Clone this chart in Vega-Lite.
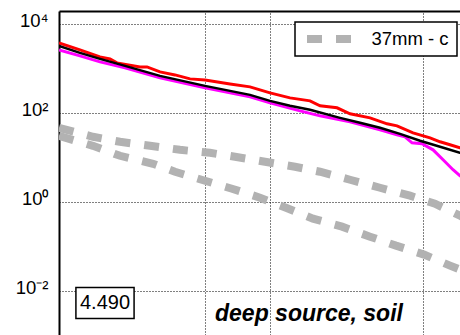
{
  "$schema": "https://vega.github.io/schema/vega-lite/v6.json",
  "width": 401,
  "height": 324,
  "autosize": {"type": "none"},
  "padding": {"left": 59, "top": 11, "right": 0, "bottom": 0},
  "background": "white",
  "config": {
    "view": {"stroke": null},
    "font": "Liberation Sans",
    "legend": {"strokeWidth": 1.5},
    "axis": {
      "grid": true, "gridColor": "black", "gridDash": [1, 2], "gridWidth": 1, "gridOpacity": 1,
      "domain": true, "domainColor": "black", "domainWidth": 2, "ticks": false,
      "labelColor": "black", "labelFont": "Liberation Sans", "labelFontSize": 18.5
    },
    "axisTop": {"labels": false},
    "axisLeft": {"labelPadding": 11, "labelBaseline": "alphabetic", "labelOffset": 3, "labelOverlap": false, "labelFlush": false}
  },
  "datasets": {
    "red": [
      {"x": 0.2132, "y": 3741}, {"x": 0.2662, "y": 2604}, {"x": 0.3290, "y": 1813},
      {"x": 0.3658, "y": 1635}, {"x": 0.3938, "y": 1329}, {"x": 0.5025, "y": 1081},
      {"x": 0.5412, "y": 1081}, {"x": 0.6211, "y": 834}, {"x": 0.7280, "y": 714},
      {"x": 0.8532, "y": 581}, {"x": 1, "y": 551}, {"x": 1.303, "y": 448},
      {"x": 1.610, "y": 384}, {"x": 1.990, "y": 281}, {"x": 2.459, "y": 217},
      {"x": 3.040, "y": 186}, {"x": 3.379, "y": 144}, {"x": 4.045, "y": 130},
      {"x": 4.642, "y": 95.0}, {"x": 5.738, "y": 77.2}, {"x": 6.868, "y": 56.6},
      {"x": 7.634, "y": 51.0}, {"x": 9.045, "y": 35.5}, {"x": 10.83, "y": 27.4},
      {"x": 12.04, "y": 22.3}, {"x": 13.38, "y": 19.1}, {"x": 14.87, "y": 16.4},
      {"x": 16.53, "y": 14.0}
    ],
    "black": [
      {"x": 0.2132, "y": 3203}, {"x": 0.2662, "y": 2230}, {"x": 0.3290, "y": 1635},
      {"x": 0.4287, "y": 1138}, {"x": 0.6211, "y": 678}, {"x": 1, "y": 404},
      {"x": 1.610, "y": 254}, {"x": 1.990, "y": 186}, {"x": 2.459, "y": 144},
      {"x": 3.040, "y": 117}, {"x": 4.175, "y": 77.2}, {"x": 5.160, "y": 59.6},
      {"x": 6.376, "y": 46.0}, {"x": 7.880, "y": 33.7}, {"x": 9.739, "y": 23.5},
      {"x": 12.04, "y": 17.2}, {"x": 14.87, "y": 12.6}, {"x": 16.53, "y": 10.8}
    ],
    "magenta": [
      {"x": 0.2132, "y": 2604}, {"x": 0.2662, "y": 1909}, {"x": 0.3290, "y": 1400},
      {"x": 0.4287, "y": 1026}, {"x": 0.6211, "y": 612}, {"x": 1, "y": 365},
      {"x": 1.610, "y": 229}, {"x": 1.990, "y": 168}, {"x": 2.734, "y": 111},
      {"x": 3.379, "y": 85.6}, {"x": 4.642, "y": 62.8}, {"x": 6.376, "y": 41.5},
      {"x": 7.634, "y": 32.0}, {"x": 8.308, "y": 28.9}, {"x": 8.950, "y": 21.2},
      {"x": 9.947, "y": 20.1}, {"x": 11.18, "y": 14.7}, {"x": 12.43, "y": 8.78},
      {"x": 13.81, "y": 5.24}, {"x": 14.87, "y": 3.84}, {"x": 16.53, "y": 2.81}
    ],
    "gray": [
      {"curve": "a", "legend": "37mm - c", "x": 0.2132, "y": 46.0},
      {"curve": "a", "legend": "37mm - c", "x": 0.3055, "y": 28.9},
      {"curve": "a", "legend": "37mm - c", "x": 0.4067, "y": 22.3},
      {"curve": "a", "legend": "37mm - c", "x": 0.5587, "y": 18.1},
      {"curve": "a", "legend": "37mm - c", "x": 0.7674, "y": 14.7},
      {"curve": "a", "legend": "37mm - c", "x": 1.054, "y": 12.6},
      {"curve": "a", "legend": "37mm - c", "x": 1.374, "y": 10.26},
      {"curve": "a", "legend": "37mm - c", "x": 1.887, "y": 7.92},
      {"curve": "a", "legend": "37mm - c", "x": 2.593, "y": 6.12},
      {"curve": "a", "legend": "37mm - c", "x": 3.379, "y": 4.72},
      {"curve": "a", "legend": "37mm - c", "x": 4.642, "y": 3.12},
      {"curve": "a", "legend": "37mm - c", "x": 6.376, "y": 2.06},
      {"curve": "a", "legend": "37mm - c", "x": 8.760, "y": 1.364},
      {"curve": "a", "legend": "37mm - c", "x": 11.41, "y": 0.902},
      {"curve": "a", "legend": "37mm - c", "x": 14.87, "y": 0.485},
      {"curve": "a", "legend": "37mm - c", "x": 16.53, "y": 0.374},
      {"curve": "b", "legend": "37mm - c", "x": 0.2132, "y": 30.4},
      {"curve": "b", "legend": "37mm - c", "x": 0.3055, "y": 18.1},
      {"curve": "b", "legend": "37mm - c", "x": 0.4067, "y": 10.8},
      {"curve": "b", "legend": "37mm - c", "x": 0.5767, "y": 7.14},
      {"curve": "b", "legend": "37mm - c", "x": 0.7280, "y": 4.72},
      {"curve": "b", "legend": "37mm - c", "x": 1, "y": 2.963},
      {"curve": "b", "legend": "37mm - c", "x": 1.331, "y": 1.960},
      {"curve": "b", "legend": "37mm - c", "x": 1.790, "y": 1.230},
      {"curve": "b", "legend": "37mm - c", "x": 2.357, "y": 0.733},
      {"curve": "b", "legend": "37mm - c", "x": 3.137, "y": 0.415},
      {"curve": "b", "legend": "37mm - c", "x": 4.265, "y": 0.2743},
      {"curve": "b", "legend": "37mm - c", "x": 5.738, "y": 0.1635},
      {"curve": "b", "legend": "37mm - c", "x": 7.553, "y": 0.1026},
      {"curve": "b", "legend": "37mm - c", "x": 10.16, "y": 0.0644},
      {"curve": "b", "legend": "37mm - c", "x": 13.38, "y": 0.0365},
      {"curve": "b", "legend": "37mm - c", "x": 14.87, "y": 0.0296},
      {"curve": "b", "legend": "37mm - c", "x": 16.53, "y": 0.0241}
    ]
  },
  "layer": [
    {
      "encoding": {
        "x": {
          "field": "x", "type": "quantitative",
          "scale": {"type": "log", "domain": [0.2132, 14.87], "nice": false},
          "axis": {"orient": "top", "values": [1, 2, 10], "title": null}
        },
        "y": {
          "field": "y", "type": "quantitative",
          "scale": {"type": "log", "domain": [0.001, 19590], "nice": false},
          "axis": {
            "orient": "left", "values": [0.01, 1, 100, 10000], "title": null,
            "labelExpr": "datum.value >= 5000 ? '10⁴' : datum.value >= 50 ? '10²' : datum.value >= 0.5 ? '10⁰' : '10⁻²'"
          }
        }
      },
      "layer": [
        {
          "data": {"name": "gray"},
          "mark": {"type": "line", "color": "#b2b2b2", "strokeWidth": 8, "strokeCap": "butt", "clip": true},
          "encoding": {
            "detail": {"field": "curve"},
            "strokeDash": {
              "field": "legend", "type": "nominal",
              "scale": {"range": [[15, 14]]},
              "legend": {
                "title": null, "orient": "none", "legendX": 236, "legendY": 11,
                "padding": 7.5, "fillColor": "white", "strokeColor": "black",
                "symbolType": "stroke", "symbolSize": 1936, "symbolStrokeWidth": 8,
                "symbolStrokeColor": "#b2b2b2", "symbolOffset": 0.5, "clipHeight": 19,
                "labelFontSize": 18.5, "labelFont": "Liberation Sans", "labelColor": "black",
                "labelOffset": 16.5, "labelLimit": 300
              }
            }
          }
        },
        {
          "data": {"name": "magenta"},
          "mark": {"type": "line", "color": "#ff00ff", "strokeWidth": 3, "clip": true}
        },
        {
          "data": {"name": "red"},
          "mark": {"type": "line", "color": "#ff0000", "strokeWidth": 3, "clip": true}
        },
        {
          "data": {"name": "black"},
          "mark": {"type": "line", "color": "#000000", "strokeWidth": 2.5, "clip": true}
        }
      ]
    },
    {
      "data": {"values": [{"label": "4.490"}]},
      "mark": {"type": "rect", "fill": "white", "stroke": "black", "strokeWidth": 1.5},
      "encoding": {
        "x": {"datum": 0.255, "type": "quantitative", "scale": {"type": "log", "domain": [0.2132, 14.87], "nice": false}, "axis": {"orient": "top", "values": [1, 2, 10], "title": null}},
        "x2": {"datum": 0.472},
        "y": {"datum": 0.01167, "type": "quantitative", "scale": {"type": "log", "domain": [0.001, 19590], "nice": false}, "axis": {"orient": "left", "values": [0.01, 1, 100, 10000], "title": null, "labelExpr": "datum.value >= 5000 ? '10⁴' : datum.value >= 50 ? '10²' : datum.value >= 0.5 ? '10⁰' : '10⁻²'"}},
        "y2": {"datum": 0.00235}
      }
    },
    {
      "data": {"values": [{"label": "4.490"}]},
      "mark": {"type": "text", "fontSize": 20, "font": "Liberation Sans", "align": "center", "baseline": "middle", "color": "black"},
      "encoding": {
        "x": {"datum": 0.347, "type": "quantitative", "scale": {"type": "log", "domain": [0.2132, 14.87], "nice": false}, "axis": {"orient": "top", "values": [1, 2, 10], "title": null}},
        "y": {"datum": 0.00524, "type": "quantitative", "scale": {"type": "log", "domain": [0.001, 19590], "nice": false}, "axis": {"orient": "left", "values": [0.01, 1, 100, 10000], "title": null, "labelExpr": "datum.value >= 5000 ? '10⁴' : datum.value >= 50 ? '10²' : datum.value >= 0.5 ? '10⁰' : '10⁻²'"}},
        "text": {"field": "label"}
      }
    },
    {
      "data": {"values": [{"label": "deep source, soil"}]},
      "mark": {"type": "text", "fontSize": 23, "font": "Liberation Sans", "fontWeight": "bold", "fontStyle": "italic", "align": "left", "baseline": "alphabetic", "color": "black"},
      "encoding": {
        "x": {"datum": 1.112, "type": "quantitative", "scale": {"type": "log", "domain": [0.2132, 14.87], "nice": false}, "axis": {"orient": "top", "values": [1, 2, 10], "title": null}},
        "y": {"datum": 0.00212, "type": "quantitative", "scale": {"type": "log", "domain": [0.001, 19590], "nice": false}, "axis": {"orient": "left", "values": [0.01, 1, 100, 10000], "title": null, "labelExpr": "datum.value >= 5000 ? '10⁴' : datum.value >= 50 ? '10²' : datum.value >= 0.5 ? '10⁰' : '10⁻²'"}},
        "text": {"field": "label"}
      }
    }
  ]
}
